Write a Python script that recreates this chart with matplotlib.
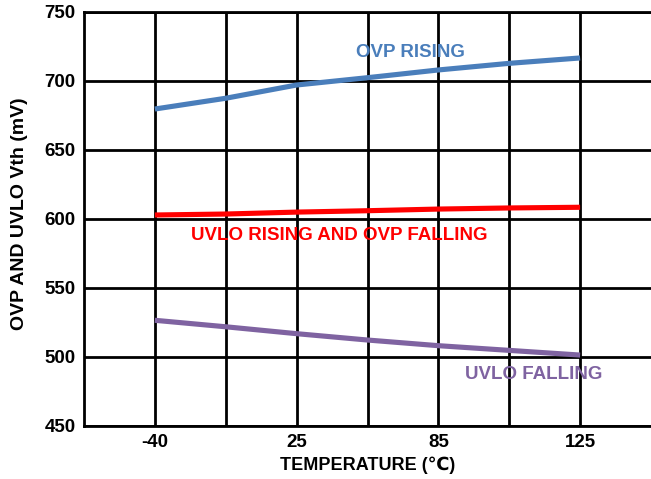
import numpy as np
import matplotlib.pyplot as plt

plt.rcParams['font.family'] = ['Liberation Sans', 'DejaVu Sans']
plt.rcParams['font.weight'] = 'bold'

# Temperature grid (equally spaced categories, only every other one labelled)
positions = [1, 2, 3, 4, 5, 6, 7]
tick_labels = ['-40', '', '25', '', '85', '', '125']

# Threshold voltages (mV)
ovp_rising = [679.7, 687.5, 697.1, 702.4, 708.0, 712.8, 716.7]
uvlo_rising_ovp_falling = [602.9, 603.6, 605.0, 606.0, 607.2, 608.0, 608.5]
uvlo_falling = [526.6, 521.9, 516.9, 512.3, 508.2, 504.8, 501.4]

fig = plt.figure(figsize=(6.51, 4.79), dpi=100)
ax = fig.add_axes([84/651, 53/479, 1 - 84/651, 414/479])

ax.plot(positions, ovp_rising, color='#4A7EBB', lw=3.7, solid_capstyle='butt', zorder=3)
ax.plot(positions, uvlo_rising_ovp_falling, color='#FF0000', lw=3.7, solid_capstyle='butt', zorder=3)
ax.plot(positions, uvlo_falling, color='#7F63A1', lw=3.7, solid_capstyle='butt', zorder=3)

ax.text(4.61, 721.0, 'OVP RISING', color='#4A7EBB', fontsize=13.5, fontweight='bold',
        ha='center', va='center')
ax.text(3.6, 588.4, 'UVLO RISING AND OVP FALLING', color='#FF0000', fontsize=13.5,
        fontweight='bold', ha='center', va='center')
ax.text(6.34, 487.0, 'UVLO FALLING', color='#7F63A1', fontsize=13.5, fontweight='bold',
        ha='center', va='center')

ax.set_xlim(0, 8)
ax.set_ylim(450, 750)
ax.set_xticks(positions)
ax.set_xticklabels(tick_labels)
ax.set_yticks(np.arange(450, 751, 50))
ax.tick_params(length=0, labelsize=13.5, pad=6)
for lab in ax.get_xticklabels() + ax.get_yticklabels():
    lab.set_fontweight('bold')

ax.grid(True, color='black', lw=2)
ax.set_axisbelow(True)
for side in ['left', 'bottom', 'top']:
    ax.spines[side].set_linewidth(2)
ax.spines['right'].set_visible(False)

ax.set_xlabel('TEMPERATURE (\u2103)', fontsize=13, fontweight='bold', labelpad=4)
ax.set_ylabel('OVP AND UVLO Vth (mV)', fontsize=14, fontweight='bold')
ax.yaxis.set_label_coords(-56/567, 0.512)

fig.savefig('out.png', dpi=100)
